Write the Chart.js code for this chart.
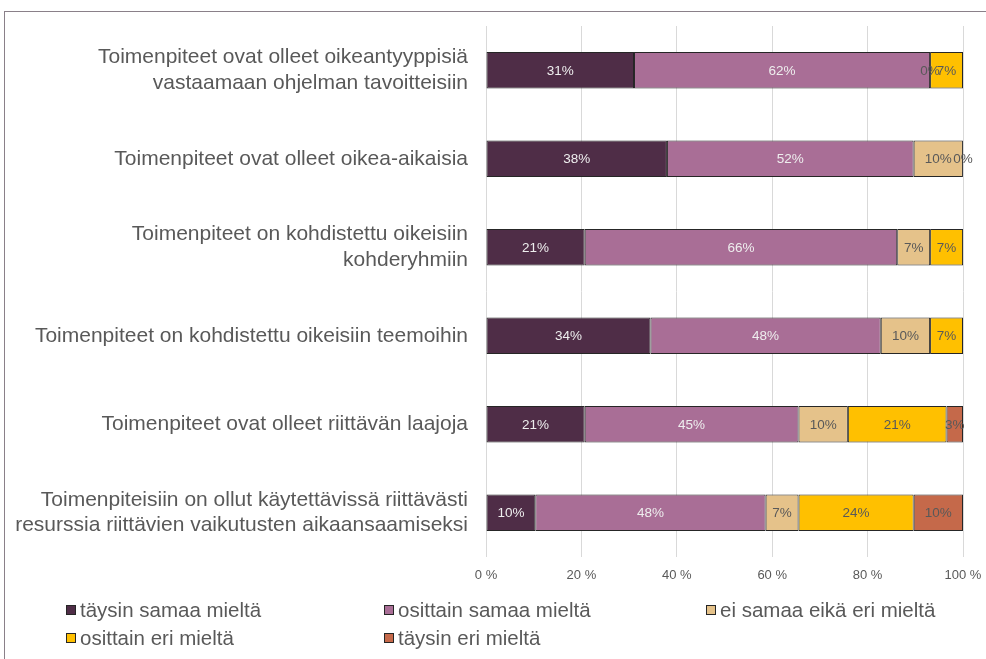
<!DOCTYPE html>
<html><head><meta charset="utf-8">
<script src="https://cdn.jsdelivr.net/npm/chart.js@4/dist/chart.umd.min.js"></script>
<style>
html,body{margin:0;padding:0;background:#fff;}
#wrap{position:relative;width:986px;height:659px;overflow:hidden;}
#frame{position:absolute;left:4px;top:11px;width:1000px;height:700px;border-left:1px solid #8a8089;border-top:1px solid #8a8089;}
canvas{position:absolute;left:0;top:0;}
</style></head><body>
<div id="wrap"><div id="frame"></div><canvas id="c" width="986" height="659"></canvas></div>
<script>
const categories = [
  ["Toimenpiteet ovat olleet oikeantyyppisiä", "vastaamaan ohjelman tavoitteisiin"],
  "Toimenpiteet ovat olleet oikea-aikaisia",
  ["Toimenpiteet on kohdistettu oikeisiin", "kohderyhmiin"],
  "Toimenpiteet on kohdistettu oikeisiin teemoihin",
  "Toimenpiteet ovat olleet riittävän laajoja",
  ["Toimenpiteisiin on ollut käytettävissä riittävästi", "resurssia riittävien vaikutusten aikaansaamiseksi"]
];
const seriesNames = ["täysin samaa mieltä", "osittain samaa mieltä", "ei samaa eikä eri mieltä", "osittain eri mieltä", "täysin eri mieltä"];
const taysinSamaa    = [31.03, 37.93, 20.69, 34.48, 20.69, 10.34];
const osittainSamaa  = [62.07, 51.72, 65.52, 48.28, 44.83, 48.28];
const eiSamaaEikaEri = [0, 10.34, 6.90, 10.34, 10.34, 6.90];
const osittainEri    = [6.90, 0, 6.90, 6.90, 20.69, 24.14];
const taysinEri      = [null, null, null, null, 3.45, 10.34];
const xTickLabels = ["0 %", "20 %", "40 %", "60 %", "80 %", "100 %"];

const colors = ["#4f2d47", "#a96e96", "#e5c28a", "#ffc000", "#c5694a"];
const labelColors = ["#eeeeee", "#eeeeee", "#595959", "#595959", "#595959"];
const seriesValues = [taysinSamaa, osittainSamaa, eiSamaaEikaEri, osittainEri, taysinEri];

const datasets = seriesValues.map((vals, i) => ({
  label: seriesNames[i],
  data: vals,
  backgroundColor: colors[i],
  borderColor: "#262626",
  borderWidth: 1,
  borderSkipped: false,
  barPercentage: 1,
  categoryPercentage: 0.41
}));

const FONT = "'Liberation Sans', Arial, sans-serif";

const valueLabels = {
  id: "valueLabels",
  afterDatasetsDraw(chart) {
    const ctx = chart.ctx;
    ctx.save();
    ctx.font = "13.5px " + FONT;
    ctx.textAlign = "center";
    ctx.textBaseline = "middle";
    chart.data.datasets.forEach((ds, di) => {
      const meta = chart.getDatasetMeta(di);
      meta.data.forEach((el, i) => {
        const v = ds.data[i];
        if (v === null || v === undefined) return;
        const x = (el.x + el.base) / 2;
        ctx.fillStyle = labelColors[di];
        ctx.fillText(Math.round(v) + "%", x, el.y + 1);
      });
    });
    ctx.restore();
  }
};

const customLegend = {
  id: "customLegend",
  afterDraw(chart) {
    const ctx = chart.ctx;
    ctx.save();
    ctx.font = "20.5px " + FONT;
    ctx.textBaseline = "middle";
    ctx.textAlign = "left";
    const colX = [66, 384, 706];
    const rowY = [610, 638];
    chart.data.datasets.forEach((ds, i) => {
      const x = colX[i % 3];
      const y = rowY[Math.floor(i / 3)];
      ctx.fillStyle = ds.backgroundColor;
      ctx.fillRect(x, y - 5, 10, 10);
      ctx.strokeStyle = "#262626";
      ctx.lineWidth = 1;
      ctx.strokeRect(x + 0.5, y - 4.5, 9, 9);
      ctx.fillStyle = "#595959";
      ctx.fillText(ds.label, x + 14, y + 1);
    });
    ctx.restore();
  }
};

new Chart(document.getElementById("c"), {
  type: "bar",
  data: { labels: categories, datasets },
  options: {
    indexAxis: "y",
    responsive: false,
    animation: false,
    devicePixelRatio: 1,
    layout: { padding: { left: 0, top: 26, right: 23, bottom: 74 } },
    plugins: { legend: { display: false }, tooltip: { enabled: false } },
    scales: {
      x: {
        stacked: true,
        min: 0, max: 100,
        afterFit(scale) { scale.height = 28; scale.paddingLeft = 0; scale.paddingRight = 0; },
        ticks: {
          stepSize: 20,
          padding: 11,
          color: "#595959",
          font: { size: 13, family: FONT },
          callback: (v, i) => xTickLabels[i]
        },
        grid: { color: "#d9d9d9", lineWidth: 1, drawTicks: false },
        border: { display: false }
      },
      y: {
        stacked: true,
        afterFit(scale) { scale.width = 486; scale.paddingTop = 0; scale.paddingBottom = 0; },
        ticks: {
          padding: 18,
          color: "#595959",
          font: { size: 21, family: FONT, lineHeight: 1.2 }
        },
        grid: { display: false, drawTicks: false },
        border: { display: false }
      }
    }
  },
  plugins: [valueLabels, customLegend]
});
</script>
</body></html>
